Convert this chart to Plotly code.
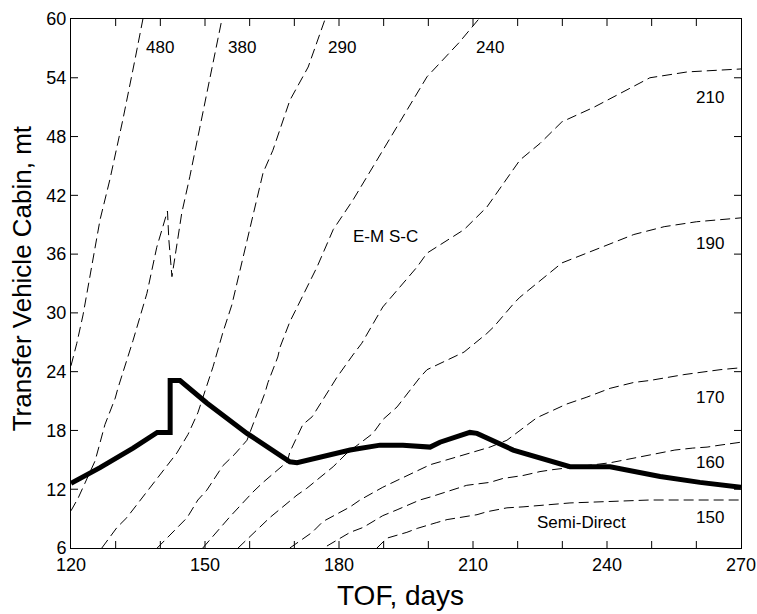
import plotly.graph_objects as go

# Time of flight (days) and cabin mass (mt) along each constant-value contour
c480_tof = [120.0, 120.5, 121.3, 122.7, 123.1, 124.3, 126.5, 128.7, 131.6, 134.3, 136.1]
c480_mass = [24.6, 25.5, 26.9, 29.8, 30.8, 34.1, 39.5, 43.6, 49.7, 55.8, 60.0]

c380_tof = [120.0, 121.6, 123.1, 125.4, 127.6, 129.9, 130.5, 133.9, 137.0, 139.2, 141.6, 141.9, 142.6, 143.6, 144.8, 146.6, 148.9, 151.1, 153.8]
c380_mass = [9.8, 11.1, 12.6, 14.9, 18.6, 21.3, 22.3, 27.2, 32.0, 36.7, 40.4, 37.5, 33.7, 36.8, 40.2, 43.9, 49.0, 54.1, 60.0]

c290_tof = [126.9, 130.3, 132.5, 135.9, 137.7, 142.2, 143.7, 146.2, 148.4, 151.8, 154.0, 156.0, 159.4, 163.0, 165.2, 169.0, 173.1, 176.9]
c290_mass = [6.0, 8.1, 9.1, 11.1, 12.1, 14.7, 15.7, 17.6, 19.8, 24.5, 28.0, 30.8, 37.4, 44.3, 46.6, 51.7, 55.1, 60.0]

c240_tof = [139.3, 143.7, 146.0, 148.4, 150.4, 154.0, 156.7, 159.4, 161.2, 163.4, 164.1, 166.3, 166.8, 169.0, 170.1, 172.8, 175.1, 178.7, 183.1, 188.5, 193.0, 198.1, 199.7, 206.9, 211.3]
c240_mass = [6.0, 8.0, 9.1, 10.9, 11.9, 14.4, 15.6, 17.0, 19.1, 21.8, 22.9, 25.5, 26.5, 29.1, 30.1, 32.6, 34.7, 38.5, 41.5, 45.6, 49.0, 52.8, 54.1, 57.6, 60.0]

c210_tof = [149.5, 153.4, 155.6, 160.7, 163.0, 168.4, 169.0, 171.9, 174.0, 178.0, 179.5, 183.1, 185.1, 189.8, 197.5, 199.7, 208.0, 213.1, 220.5, 225.0, 229.9, 237.1, 249.6, 258.0, 267.3, 270.0]
c210_mass = [6.0, 8.1, 9.2, 11.7, 12.7, 14.8, 15.8, 18.6, 19.4, 22.3, 23.4, 25.7, 26.9, 30.6, 34.7, 36.1, 38.5, 40.8, 45.6, 47.3, 49.5, 51.0, 54.0, 54.6, 54.8, 54.9]

c190_tof = [157.4, 162.3, 164.5, 170.6, 172.8, 178.7, 180.2, 181.8, 187.6, 189.8, 193.0, 198.1, 199.7, 205.7, 208.0, 213.1, 214.7, 219.2, 220.5, 229.9, 237.1, 246.0, 252.8, 260.0, 270.0]
c190_mass = [6.0, 8.1, 9.1, 11.4, 12.1, 14.3, 15.0, 15.7, 17.7, 19.1, 20.4, 23.4, 24.2, 25.5, 26.0, 27.9, 28.6, 31.0, 31.6, 35.1, 36.4, 38.0, 38.8, 39.3, 39.7]

c170_tof = [169.0, 174.0, 176.4, 182.5, 184.7, 189.8, 193.0, 198.1, 200.4, 206.4, 209.3, 213.8, 217.6, 224.3, 231.0, 235.5, 240.7, 246.0, 249.6, 257.2, 265.3, 270.0]
c170_mass = [6.0, 7.6, 8.7, 10.2, 10.9, 12.2, 12.9, 14.0, 14.5, 15.3, 15.7, 16.3, 17.0, 19.3, 20.7, 21.4, 22.3, 22.9, 23.1, 23.7, 24.2, 24.4]

c160_tof = [177.3, 182.5, 185.4, 189.8, 193.0, 198.1, 200.4, 206.4, 208.6, 213.8, 216.7, 221.2, 225.0, 227.9, 240.7, 247.4, 249.6, 255.2, 259.2, 262.4, 265.3, 270.0]
c160_mass = [6.2, 7.6, 8.1, 9.3, 9.9, 10.9, 11.2, 12.1, 12.4, 12.7, 13.1, 13.4, 13.8, 14.0, 14.7, 15.3, 15.5, 16.0, 16.2, 16.3, 16.5, 16.8]

c150_tof = [188.5, 190.7, 195.2, 197.5, 201.9, 204.2, 210.9, 213.1, 217.6, 221.2, 231.7, 237.8, 245.8, 249.6, 263.0, 270.0]
c150_mass = [6.0, 7.0, 7.6, 8.0, 8.6, 8.9, 9.4, 9.7, 10.1, 10.2, 10.6, 10.7, 10.8, 10.9, 10.9, 10.9]

contours = [
    ("480", c480_tof, c480_mass),
    ("380", c380_tof, c380_mass),
    ("290", c290_tof, c290_mass),
    ("240", c240_tof, c240_mass),
    ("210", c210_tof, c210_mass),
    ("190", c190_tof, c190_mass),
    ("170", c170_tof, c170_mass),
    ("160", c160_tof, c160_mass),
    ("150", c150_tof, c150_mass),
]

# Semi-Direct cabin mass envelope
semi_tof = [120.0, 126.5, 133.9, 139.3, 142.2, 142.2, 144.4, 150.4, 159.4, 169.0, 170.6, 182.5, 189.2, 194.3, 200.4, 202.6, 209.3, 210.9, 219.0, 228.8, 231.7, 240.7, 251.9, 260.8, 270.0]
semi_mass = [12.6, 14.2, 16.2, 17.8, 17.8, 23.1, 23.1, 20.8, 17.7, 14.8, 14.7, 16.0, 16.5, 16.5, 16.3, 16.8, 17.8, 17.7, 16.0, 14.7, 14.3, 14.3, 13.3, 12.7, 12.2]

# Axis ranges and ticks
x_range = [120, 270]
y_range = [6, 60]
x_ticks = [120, 150, 180, 210, 240, 270]
x_minor_ticks = [130, 140, 160, 170, 190, 200, 220, 230, 250, 260]
y_ticks = [6, 12, 18, 24, 30, 36, 42, 48, 54, 60]

# Contour label text and placement (TOF, mass)
label_text = ["480", "380", "290", "240", "210", "190", "170", "160", "150", "E-M S-C", "Semi-Direct"]
label_tof = [140.0, 158.3, 180.7, 213.8, 263.0, 263.0, 263.0, 263.0, 263.0, 190.5, 234.4]
label_mass = [57.1, 57.1, 57.1, 57.1, 52.0, 37.1, 21.4, 14.7, 9.1, 37.8, 8.6]

FONT = "Liberation Sans, Arial, sans-serif"
WIDTH, HEIGHT = 757, 614
MARGIN = dict(l=71, r=16, t=19, b=66)
TICK_PX = 7

fig = go.Figure()
for name, xs, ys in contours:
    fig.add_trace(go.Scatter(
        x=xs, y=ys, mode="lines", name=name, showlegend=False,
        line=dict(color="black", width=1, dash="10px,5px"),
    ))

fig.add_trace(go.Scatter(
    x=semi_tof, y=semi_mass, mode="lines", name="Semi-Direct", showlegend=False,
    line=dict(color="black", width=5),
))

# Inward tick marks on all four sides of the frame (length converted from pixels to data units)
plot_w = WIDTH - MARGIN["l"] - MARGIN["r"]
plot_h = HEIGHT - MARGIN["t"] - MARGIN["b"]
dx = TICK_PX * (x_range[1] - x_range[0]) / plot_w
dy = TICK_PX * (y_range[1] - y_range[0]) / plot_h
tick_x, tick_y = [], []
for t in x_ticks[1:-1] + x_minor_ticks:
    tick_x += [t, t, None, t, t, None]
    tick_y += [y_range[0], y_range[0] + dy, None, y_range[1], y_range[1] - dy, None]
for t in y_ticks[1:-1]:
    tick_x += [x_range[0], x_range[0] + dx, None, x_range[1], x_range[1] - dx, None]
    tick_y += [t, t, None, t, t, None]
fig.add_trace(go.Scatter(
    x=tick_x, y=tick_y, mode="lines", showlegend=False, hoverinfo="skip",
    line=dict(color="black", width=1),
))

for t, x, y in zip(label_text, label_tof, label_mass):
    fig.add_annotation(x=x, y=y, text=t, showarrow=False,
                       font=dict(family=FONT, size=17, color="black"))

# Axis titles
fig.add_annotation(xref="paper", yref="paper", x=0.4925, y=-0.09,
                   xanchor="center", yanchor="middle", showarrow=False,
                   text="TOF, days", font=dict(family=FONT, size=28, color="black"))
fig.add_annotation(xref="paper", yref="paper", x=-0.073, y=0.51,
                   xanchor="center", yanchor="middle", showarrow=False, textangle=-90,
                   text="Transfer Vehicle Cabin, mt", font=dict(family=FONT, size=26, color="black"))

fig.update_xaxes(
    range=x_range, tickmode="array", tickvals=x_ticks,
    showline=True, linecolor="black", linewidth=1, mirror=True,
    ticks="", showgrid=False, zeroline=False,
    tickfont=dict(family=FONT, size=18, color="black"),
)
fig.update_yaxes(
    range=y_range, tickmode="array", tickvals=y_ticks,
    showline=True, linecolor="black", linewidth=1, mirror=True,
    ticks="", showgrid=False, zeroline=False,
    tickfont=dict(family=FONT, size=18, color="black"),
)

fig.update_layout(
    width=WIDTH, height=HEIGHT,
    margin=dict(**MARGIN, autoexpand=False),
    plot_bgcolor="white", paper_bgcolor="white",
)

fig.write_html("out.html")
